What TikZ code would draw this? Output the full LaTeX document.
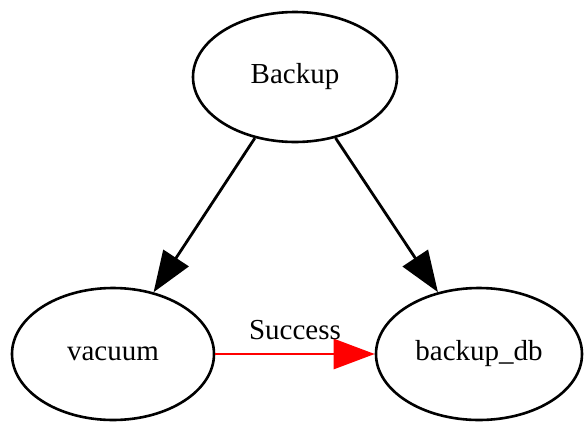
\documentclass[tikz,border=0pt]{standalone}
\usepackage{fontspec}
\setmainfont{Liberation Serif}
\usetikzlibrary{shapes.geometric,arrows.meta}
\begin{document}
\begin{tikzpicture}[x=1pt,y=-1pt,
  state/.style={ellipse,draw=black,line width=2.6pt,inner sep=0pt,
    font=\fontsize{29}{34}\selectfont},
  edge/.style={line width=2.8pt,-{Triangle[length=41pt,width=30pt]}}]
\useasboundingbox (0,0) rectangle (584,421);
\node[state,minimum width=204pt,minimum height=130pt] (backup) at (295,77) {Backup};
\node[state,minimum width=202pt,minimum height=132pt] (vacuum) at (113,354) {vacuum};
\node[state,minimum width=206pt,minimum height=132pt] (backupdb) at (479,354) {backup\_db};
\draw[edge] (backup) -- (vacuum);
\draw[edge] (backup) -- (backupdb);
\draw[edge,red] (vacuum) -- node[above,black,font=\fontsize{29}{34}\selectfont,yshift=9pt] (lbl) {Success} (backupdb);
\end{tikzpicture}
\end{document}
